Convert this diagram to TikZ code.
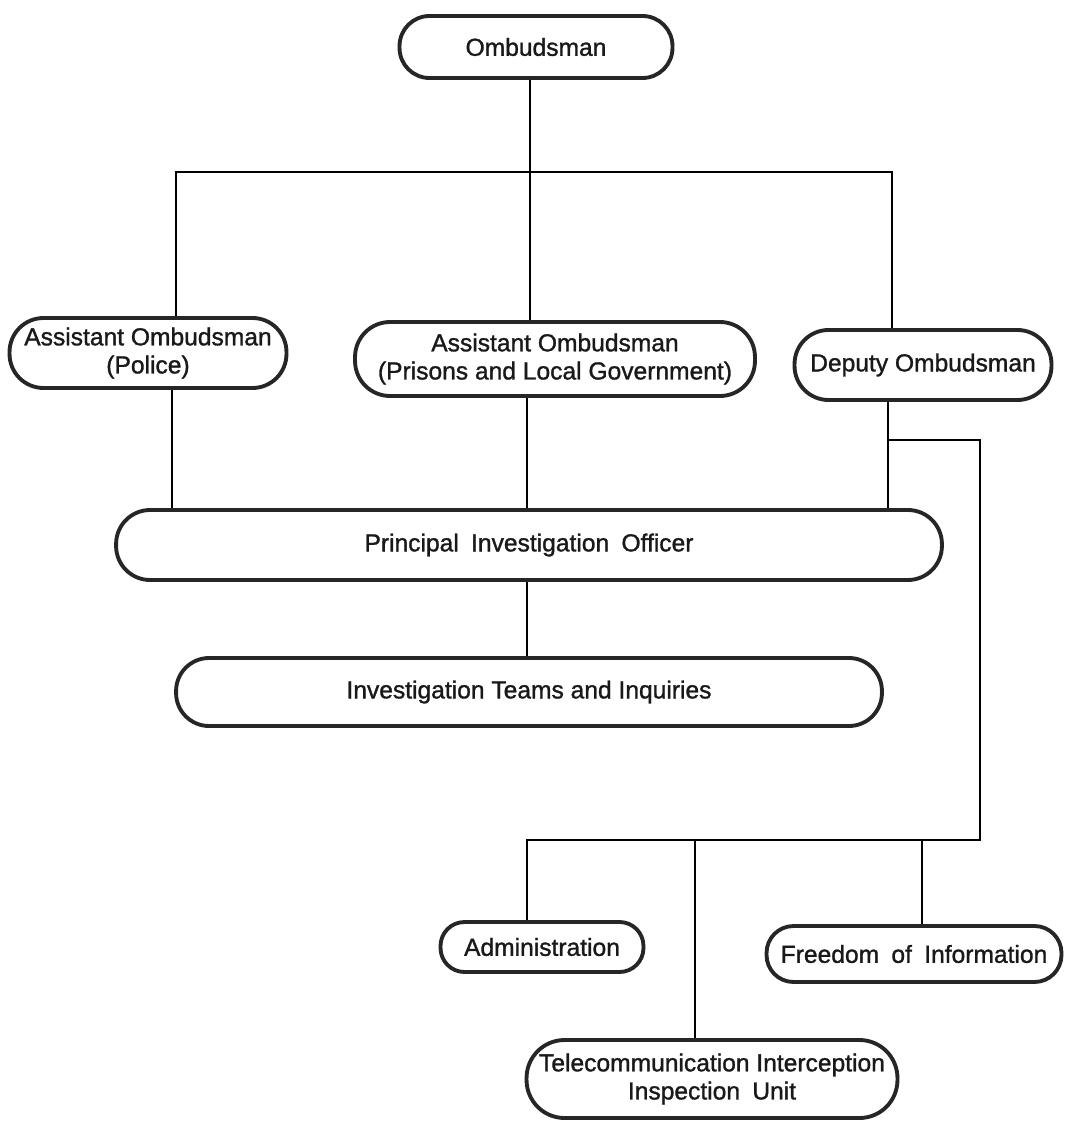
\documentclass[tikz,border=0pt]{standalone}
\usepackage{fontspec}
\setmainfont{Liberation Sans}[FakeBold=1.2]
\tikzset{
  unit/.style={draw=black!85, line width=2.2pt, rounded corners=#1, align=center,
    inner sep=0pt, font=\fontsize{14}{16}\selectfont, text=black!90},
  unit/.default=0.6cm,
  link/.style={line width=0.8pt}
}
\begin{document}
\begin{tikzpicture}[x=0.02cm,y=-0.02cm]
		\useasboundingbox (0,0) rectangle (1065,1121);

		\node[unit, minimum width=5.46cm, minimum height=1.24cm] (omb) at (536,47) {Ombudsman};
		\node[unit=0.68cm, minimum width=5.54cm, minimum height=1.40cm] (police) at (148,353) {Assistant Ombudsman\\(Police)};
		\node[unit=0.7cm, minimum width=8.00cm, minimum height=1.48cm] (prisons) at (555,359) {Assistant Ombudsman\\(Prisons and Local Government)};
		\node[unit=0.68cm, minimum width=5.14cm, minimum height=1.40cm] (deputy) at (923,365) {Deputy Ombudsman};
		\node[unit=0.68cm, minimum width=16.52cm, minimum height=1.40cm] (pio) at (529,545) {Principal\enspace Investigation\enspace Officer};
		\node[unit=0.66cm, minimum width=14.12cm, minimum height=1.36cm] (teams) at (529,692) {Investigation Teams and Inquiries};
		\node[unit=0.48cm, minimum width=4.06cm, minimum height=1.00cm] (admin) at (542,947) {Administration};
		\node[unit=0.54cm, minimum width=5.90cm, minimum height=1.12cm] (foi) at (914,954) {Freedom\enspace of\enspace Information};
		\node[unit=0.76cm, minimum width=7.42cm, minimum height=1.56cm] (tel) at (712,1079) {Telecommunication Interception\\Inspection\enspace Unit};

		\coordinate (busL) at (176,172);
		\coordinate (busR) at (892,172);
		\coordinate (trunk) at (530,172);
		\coordinate (cA) at (172,0);
		\coordinate (cB) at (527,0);
		\coordinate (cC) at (888,0);
		\coordinate (cE) at (695,0);
		\coordinate (cF) at (922,0);
		\coordinate (brk) at (980,440);
		\coordinate (low) at (980,840);

		\draw[link] (omb.south -| trunk) -- (prisons.north -| trunk);
		\draw[link] (police.north -| busL) |- (busR) -- (deputy.north -| busR);

		\draw[link] (police.south -| cA) -- (pio.north -| cA);
		\draw[link] (prisons.south -| cB) -- (pio.north -| cB);
		\draw[link] (deputy.south -| cC) -- (pio.north -| cC);
		\draw[link] (pio.south -| cB) -- (teams.north -| cB);

		\draw[link] (brk -| cC) -- (brk) -- (low) -- (low -| cB) -- (admin.north -| cB);
		\draw[link] (low -| cE) -- (tel.north -| cE);
		\draw[link] (low -| cF) -- (foi.north -| cF);
	\end{tikzpicture}
\end{document}
